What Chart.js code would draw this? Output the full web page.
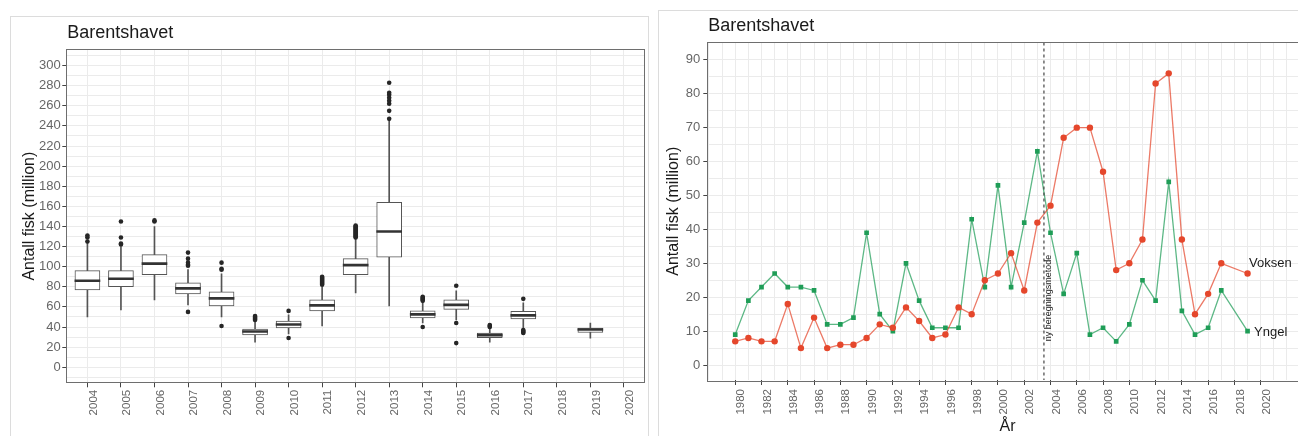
<!DOCTYPE html>
<html><head><meta charset="utf-8">
<script src="https://cdn.jsdelivr.net/npm/chart.js@4.4.1/dist/chart.umd.min.js"></script>
<style>
html,body{margin:0;padding:0;background:#fff;width:1298px;height:436px;overflow:hidden;position:relative;font-family:"Liberation Sans",Arial,sans-serif}
.frame{position:absolute;border:1px solid #dcdcdc;box-sizing:border-box}
#f1{left:10px;top:16px;width:639px;height:440px}
#f2{left:658px;top:10px;width:680px;height:440px}
canvas{position:absolute}
#c1{left:10px;top:16px}
#c2{left:658px;top:10px}
</style></head><body>
<div class="frame" id="f1"></div><div class="frame" id="f2"></div>
<canvas id="c1" width="638" height="420"></canvas>
<canvas id="c2" width="660" height="426"></canvas>
<script>
// ---------- Left panel: boxplot data ----------
const boxYears   = [2004,2005,2006,2007,2008,2009,2010,2011,2012,2013,2014,2015,2016,2017,2018,2019,2020];
const boxQ1      = [77, 80, 92, 73, 61, 32, 39, 56, 92, 109.5, 49, 57.5, 29.5, 48, null, 34.5, null];
const boxMedian  = [86, 88, 103, 78.5, 68.5, 35.5, 42.5, 61.5, 101.5, 135, 52.5, 62, 32, 51.5, null, 37.5, null];
const boxQ3      = [96, 96, 112, 84, 75, 38, 46, 67, 108, 164, 56, 67, 34, 55.5, null, 39, null];
const whiskerLow = [50, 57, 67, 62, 50, 25, 33, 41, 74, 61, 44, 47, 25, 39, null, 29, null];
const whiskerHigh= [124, 120, 140, 97, 93, 45, 52, 80, 128, 245, 64, 76, 38, 64, null, 44, null];
const outliers   = [
  [125,129,131],
  [122,123,129,145],
  [145,146],
  [55,101,102,104,108,114],
  [41,97,98,104],
  [47,48,49,50,51],
  [29,56],
  [82,83,84,85,86,87,88,89,90],
  [129,130,131,132,133,134,135,136,137,138,139,140,141],
  [247,255,262,265,268,271,273,283],
  [40,66,67,68,69,70],
  [24,44,81],
  [40,41,42],
  [34,35,36,37,68],
  [],
  [],
  []
];
const leftYTickLabels = [0,20,40,60,80,100,120,140,160,180,200,220,240,260,280,300];

// ---------- Right panel: time series data ----------
const lineYears = [1980,1981,1982,1983,1984,1985,1986,1987,1988,1989,1990,1991,1992,1993,1994,1995,1996,1997,1998,1999,2000,2001,2002,2003,2004,2005,2006,2007,2008,2009,2010,2011,2012,2013,2014,2015,2016,2017,2019];
const voksen = [7,8,7,7,18,5,14,5,6,6,8,12,11,17,13,8,9,17,15,25,27,33,22,42,47,67,70,70,57,28,30,37,83,86,37,15,21,30,27];
const yngel  = [9,19,23,27,23,23,22,12,12,14,39,15,10,30,19,11,11,11,43,23,53,23,42,63,39,21,33,9,11,7,12,25,19,54,16,9,11,22,10];
const seriesNames = ['Voksen','Yngel'];
const rightXTickLabels = [1980,1982,1984,1986,1988,1990,1992,1994,1996,1998,2000,2002,2004,2006,2008,2010,2012,2014,2016,2018,2020];
const rightYTickLabels = [0,10,20,30,40,50,60,70,80,90];
const methodChangeYear = 2003.5;
const methodChangeText = 'ny beregningsmetode';
const panelTitle = 'Barentshavet';
const yAxisTitle = 'Antall fisk (million)';
const xAxisTitle = 'År';

Chart.defaults.font.family = '"Liberation Sans", Arial, sans-serif';
const FONT = '"Liberation Sans", Arial, sans-serif';
const GRID = '#ebebeb';
const TICKTXT = '#666';
const TICKMARK = '#444';

const decor = {
  id: 'decor',
  afterDraw(chart, args, o) {
    const {ctx, chartArea: a} = chart;
    ctx.save();
    ctx.strokeStyle = '#6e6e6e';
    ctx.lineWidth = 1;
    ctx.strokeRect(Math.round(a.left) - 0.5, Math.round(a.top) - 0.5, Math.round(a.right - a.left) + 1, Math.round(a.bottom - a.top) + 1);
    ctx.font = '18px ' + FONT;
    ctx.fillStyle = '#1a1a1a';
    ctx.textAlign = 'left';
    ctx.textBaseline = 'middle';
    ctx.fillText(o.title, a.left, o.titleY);
    ctx.restore();
  }
};

// ---------- Left chart ----------
const idx = boxYears.map((y,i)=>i).filter(i => boxQ1[i] !== null);
const outlierPts = [];
boxYears.forEach((y,i) => outliers[i].forEach(v => outlierPts.push({x:y, y:v})));
const leftTicksSet = new Set(leftYTickLabels);

new Chart(document.getElementById('c1'), {
  type: 'bar',
  data: { datasets: [
    {type:'line', label:'outliers', data: outlierPts, showLine:false, pointRadius:2.3, pointBackgroundColor:'#262626', pointBorderWidth:0, order:1},
    {label:'median', data: idx.map(i => ({x:boxYears[i], y:[boxMedian[i]-1, boxMedian[i]+1]})), backgroundColor:'#333', barThickness:25, grouped:false, order:2},
    {label:'box', data: idx.map(i => ({x:boxYears[i], y:[boxQ1[i], boxQ3[i]]})), backgroundColor:'#fff', borderColor:'#555', borderWidth:1, borderSkipped:false, barThickness:25, grouped:false, order:3},
    {label:'whisker', data: idx.map(i => ({x:boxYears[i], y:[whiskerLow[i], whiskerHigh[i]]})), backgroundColor:'#555', barThickness:1, grouped:false, order:4}
  ]},
  options: {
    responsive:false, animation:false, events:[],
    layout:{padding:{left:0, top:34, right:3, bottom:0}},
    plugins:{legend:{display:false}, tooltip:{enabled:false}, decor:{title:panelTitle, titleY:17}},
    scales:{
      x:{type:'linear', min:2003.4, max:2020.6, offset:false,
        afterBuildTicks: s => { s.ticks = boxYears.map(v => ({value:v})); },
        afterFit: s => { s.height = 53.7; },
        grid:{offset:false, color:GRID, lineWidth:1, tickLength:5, tickColor:TICKMARK},
        border:{display:false},
        ticks:{autoSkip:false, maxRotation:90, minRotation:90, padding:2.5, labelOffset:6, color:TICKTXT, font:{size:11.5}, callback: v => String(v)}},
      y:{type:'linear', min:-15, max:315.5, beginAtZero:false,
        afterBuildTicks: s => { const t=[]; for (let v=-10; v<=310; v+=10) t.push({value:v}); s.ticks = t; },
        afterFit: s => { s.width = 57.3; },
        grid:{color:GRID, lineWidth:1, tickLength:5, tickColor: c => (c.tick && leftTicksSet.has(c.tick.value)) ? TICKMARK : 'rgba(0,0,0,0)'},
        border:{display:false},
        title:{display:true, text:yAxisTitle, color:'#1a1a1a', font:{size:16}, padding:{top:9.5, bottom:0}},
        ticks:{autoSkip:false, padding:1.5, color:TICKTXT, font:{size:13}, callback: v => leftTicksSet.has(v) ? String(v) : ''}}
    }
  },
  plugins:[decor]
});

// ---------- Right chart ----------
const rxSet = new Set(rightXTickLabels);
const rySet = new Set(rightYTickLabels);
const RED = '#e5472c', RED_L = 'rgba(229,71,44,0.72)';
const GREEN = '#1f9d57', GREEN_L = 'rgba(31,157,87,0.72)';

const annot = {
  id: 'annot',
  afterDatasetsDraw(chart, args, o) {
    const {ctx, chartArea: a, scales:{x, y}} = chart;
    ctx.save();
    const lx = x.getPixelForValue(methodChangeYear);
    ctx.strokeStyle = '#444'; ctx.lineWidth = 1.2; ctx.setLineDash([3,3]);
    ctx.beginPath(); ctx.moveTo(lx, a.top); ctx.lineTo(lx, a.bottom); ctx.stroke();
    ctx.setLineDash([]);
    ctx.translate(lx + 5, y.getPixelForValue(7));
    ctx.rotate(-Math.PI/2);
    ctx.font = '9px ' + FONT; ctx.fillStyle = '#222'; ctx.textAlign = 'left'; ctx.textBaseline = 'middle';
    ctx.fillText(methodChangeText, 0, 0);
    ctx.restore();
    ctx.save();
    ctx.font = '13px ' + FONT; ctx.fillStyle = '#1a1a1a'; ctx.textAlign = 'left'; ctx.textBaseline = 'middle';
    o.offsets.forEach((off, di) => {
      const meta = chart.getDatasetMeta(di);
      const p = meta.data[meta.data.length - 1];
      ctx.fillText(seriesNames[di], p.x + off[0], p.y + off[1]);
    });
    ctx.restore();
  }
};

new Chart(document.getElementById('c2'), {
  type: 'line',
  data: { datasets: [
    {label:seriesNames[0], data: lineYears.map((yr,i)=>({x:yr, y:voksen[i]})), borderColor:RED_L, borderWidth:1.3, pointStyle:'circle', pointRadius:3.2, pointBackgroundColor:RED, pointBorderWidth:0, tension:0},
    {label:seriesNames[1], data: lineYears.map((yr,i)=>({x:yr, y:yngel[i]})), borderColor:GREEN_L, borderWidth:1.3, pointStyle:'rect', pointRadius:3.3, pointBackgroundColor:GREEN, pointBorderWidth:0, tension:0}
  ]},
  options: {
    responsive:false, animation:false, events:[],
    layout:{padding:{left:0, top:32.5, right:9.2, bottom:0}},
    plugins:{legend:{display:false}, tooltip:{enabled:false}, decor:{title:panelTitle, titleY:16}, annot:{offsets:[[1.5,-10],[6.5,1.5]]}},
    scales:{
      x:{type:'linear', min:1977.95, max:2023.5,
        afterBuildTicks: s => { const t=[]; for (let v=1978; v<=2023; v++) t.push({value:v}); s.ticks = t; },
        afterFit: s => { s.height = 56; },
        grid:{color:GRID, lineWidth:1, tickLength:5, tickColor: c => (c.tick && rxSet.has(c.tick.value)) ? TICKMARK : 'rgba(0,0,0,0)'},
        border:{display:false},
        title:{display:true, text:xAxisTitle, color:'#1a1a1a', font:{size:16}, padding:{top:0, bottom:0}},
        ticks:{autoSkip:false, maxRotation:90, minRotation:90, padding:4, labelOffset:6, color:TICKTXT, font:{size:11.5}, callback: v => rxSet.has(v) ? String(v) : ''}},
      y:{type:'linear', min:-4.4, max:95.1,
        afterBuildTicks: s => { const t=[]; for (let v=0; v<=95; v+=5) t.push({value:v}); s.ticks = t; },
        afterFit: s => { s.width = 50.3; },
        grid:{color:GRID, lineWidth:1, tickLength:5, tickColor: c => (c.tick && rySet.has(c.tick.value)) ? TICKMARK : 'rgba(0,0,0,0)'},
        border:{display:false},
        title:{display:true, text:yAxisTitle, color:'#1a1a1a', font:{size:16}, padding:{top:6.4, bottom:0}},
        ticks:{autoSkip:false, padding:3, color:TICKTXT, font:{size:13}, callback: v => rySet.has(v) ? String(v) : ''}}
    }
  },
  plugins:[decor, annot]
});
</script>
</body></html>
